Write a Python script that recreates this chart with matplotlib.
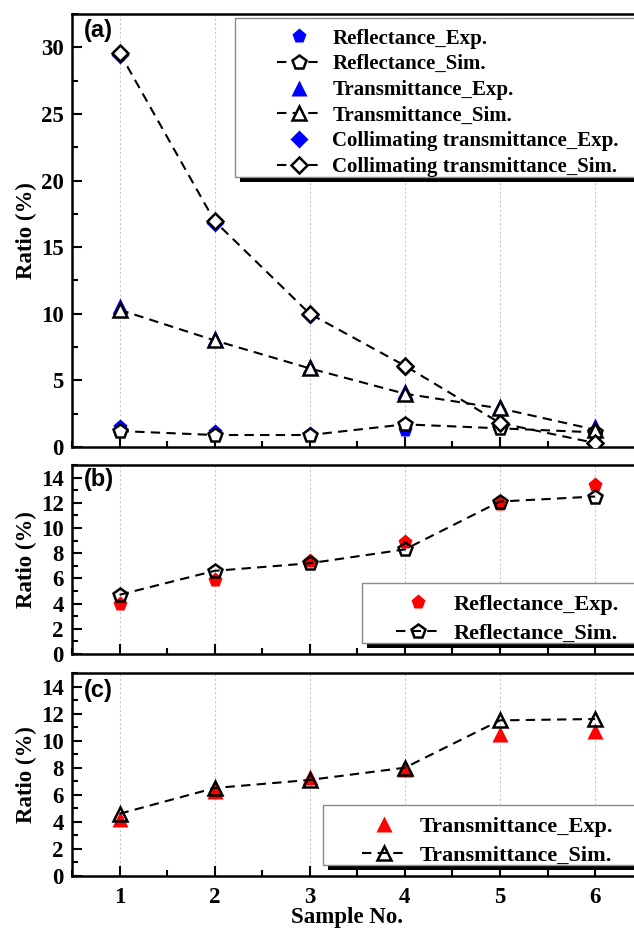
import matplotlib
matplotlib.use("Agg")
import matplotlib.pyplot as plt
from matplotlib.patches import Rectangle
from matplotlib.ticker import MultipleLocator

# ---------------- data ----------------
samples = [1, 2, 3, 4, 5, 6]
xtick_labels = ["1", "2", "3", "4", "5", "6"]

refl_exp_a = [1.5, 1.1, 1.0, 1.3, 1.5, 1.2]
refl_sim_a = [1.2, 0.9, 0.9, 1.7, 1.4, 1.1]
trans_exp_a = [10.6, 8.2, 6.1, 4.2, 3.1, 1.6]
trans_sim_a = [10.3, 8.0, 5.9, 4.0, 2.9, 1.3]
coll_exp_a = [29.4, 16.8, 9.9, 6.0, 1.7, 0.3]
coll_sim_a = [29.6, 16.95, 10.0, 6.1, 1.8, 0.3]

refl_exp_b = [4.0, 5.9, 7.4, 8.9, 11.9, 13.4]
refl_sim_b = [4.7, 6.6, 7.2, 8.3, 12.1, 12.5]

trans_exp_c = [4.2, 6.3, 7.3, 7.9, 10.5, 10.7]
trans_sim_c = [4.6, 6.5, 7.1, 8.0, 11.5, 11.6]

# ---------------- style ----------------
plt.rcParams['font.family'] = ['Liberation Serif', 'DejaVu Serif']
plt.rcParams['font.weight'] = 'bold'
plt.rcParams['axes.labelweight'] = 'bold'

W, H = 634, 930
fig = plt.figure(figsize=(W / 100, H / 100), dpi=100)

def px_axes(left, top, right, bottom):
    return fig.add_axes([left / W, 1 - bottom / H, (right - left) / W, (bottom - top) / H])

axA = px_axes(72, 14, 642.6, 447)
axB = px_axes(72, 465, 642.6, 654)
axC = px_axes(72, 673, 642.6, 876)

dash = (4.5, 3.0)
ms = 10
mew = 1.8

def style_axis(ax, ymax, ymajor, yminor):
    ax.set_xlim(0.5, 6.5)
    ax.set_ylim(0, ymax)
    ax.set_xticks(samples)
    ax.xaxis.set_minor_locator(MultipleLocator(0.5))
    ax.yaxis.set_major_locator(MultipleLocator(ymajor))
    ax.yaxis.set_minor_locator(MultipleLocator(yminor))
    ax.tick_params(which='both', direction='in', top=False, right=False, width=1.5)
    ax.tick_params(which='major', length=7, labelsize=16.5)
    ax.tick_params(which='minor', length=4)
    ax.tick_params(axis='x', pad=8)
    ax.tick_params(axis='y', pad=6)
    for s in ax.spines.values():
        s.set_linewidth(1.8)
    ax.grid(axis='x', which='major', color='#c8c8c8', linestyle=(0, (2, 2)), linewidth=0.8)
    ax.set_axisbelow(True)
    ax.set_ylabel("Ratio (%)", fontsize=16.5, fontweight='bold')
    ax.yaxis.set_label_coords(-0.062, 0.5)

# ---- panel (a) ----
style_axis(axA, 32.5, 5, 2.5)
axA.set_xticklabels([])
axA.plot(samples, refl_exp_a, linestyle='none', marker='p', ms=ms + 1, color='#0000ff', mec='none', label='Reflectance_Exp.', zorder=3)
axA.plot(samples, refl_sim_a, linestyle='--', dashes=dash, lw=1.5, color='black', marker='p', ms=ms, mfc='white', mec='black', mew=mew, label='Reflectance_Sim.', zorder=4)
axA.plot(samples, trans_exp_a, linestyle='none', marker='^', ms=ms + 1, color='#0000ff', mec='none', label='Transmittance_Exp.', zorder=3)
axA.plot(samples, trans_sim_a, linestyle='--', dashes=dash, lw=1.5, color='black', marker='^', ms=ms, mfc='white', mec='black', mew=mew, label='Transmittance_Sim.', zorder=4)
axA.plot(samples, coll_exp_a, linestyle='none', marker='D', ms=ms - 1, color='#0000ff', mec='none', label='Collimating transmittance_Exp.', zorder=3)
axA.plot(samples, coll_sim_a, linestyle='--', dashes=dash, lw=1.5, color='black', marker='D', ms=ms - 1.5, mfc='white', mec='black', mew=mew, label='Collimating transmittance_Sim.', zorder=4)

# ---- panel (b) ----
style_axis(axB, 15, 2, 1)
axB.set_xticklabels([])
axB.plot(samples, refl_exp_b, linestyle='none', marker='p', ms=ms + 1, color='#ff0000', mec='none', label='Reflectance_Exp.', zorder=3)
axB.plot(samples, refl_sim_b, linestyle='--', dashes=dash, lw=1.5, color='black', marker='p', ms=ms, mfc='none', mec='black', mew=mew, label='Reflectance_Sim.', zorder=4)

# ---- panel (c) ----
style_axis(axC, 15, 2, 1)
axC.set_xticklabels(xtick_labels)
axC.plot(samples, trans_exp_c, linestyle='none', marker='^', ms=ms + 1, color='#ff0000', mec='none', label='Transmittance_Exp.', zorder=3)
axC.plot(samples, trans_sim_c, linestyle='--', dashes=dash, lw=1.5, color='black', marker='^', ms=ms, mfc='none', mec='black', mew=mew, label='Transmittance_Sim.', zorder=4)
axC.set_xlabel("Sample No.", fontsize=16.5, fontweight='bold')
axC.xaxis.set_label_coords(0.482, -0.155)

# ---- panel letters ----
for ax, lab, ytop in [(axA, "(a)", 0.988), (axB, "(b)", 0.982), (axC, "(c)", 0.97)]:
    ax.text(0.02, ytop, lab, transform=ax.transAxes, ha='left', va='top',
            fontsize=17, fontweight='bold', family=['Liberation Sans', 'DejaVu Sans'])

# ---- legends with custom frame + black drop shadow ----
def legend_box(ax, left, top, bottom, hx, ty, fs, lspace, hl, htp):
    ax.add_patch(Rectangle(((left + 5) / W, 1 - (bottom + 5) / H), (700 - left) / W, (bottom - top) / H,
                           transform=fig.transFigure, facecolor='black', edgecolor='none',
                           clip_on=False, zorder=4.5))
    ax.add_patch(Rectangle((left / W, 1 - bottom / H), (700 - left) / W, (bottom - top) / H,
                           transform=fig.transFigure, facecolor='white', edgecolor='#8a8a8a',
                           linewidth=1.0, clip_on=False, zorder=4.6))
    leg = ax.legend(loc='upper left', bbox_to_anchor=(hx / W, 1 - ty / H), bbox_transform=fig.transFigure,
                    frameon=False, borderpad=0, borderaxespad=0,
                    labelspacing=lspace, handlelength=hl, handletextpad=htp,
                    prop={'weight': 'bold', 'size': fs})
    leg.set_zorder(5)
    return leg

legend_box(axA, 235, 18, 177, 277, 28.5, 15, 0.275, 2.1, 0.55)
legend_box(axB, 362, 583, 643, 396, 594, 16, 0.40, 2.0, 0.6)
legend_box(axC, 323, 805, 865, 362, 816, 16, 0.40, 2.0, 0.6)

fig.savefig("out.png", dpi=100)
